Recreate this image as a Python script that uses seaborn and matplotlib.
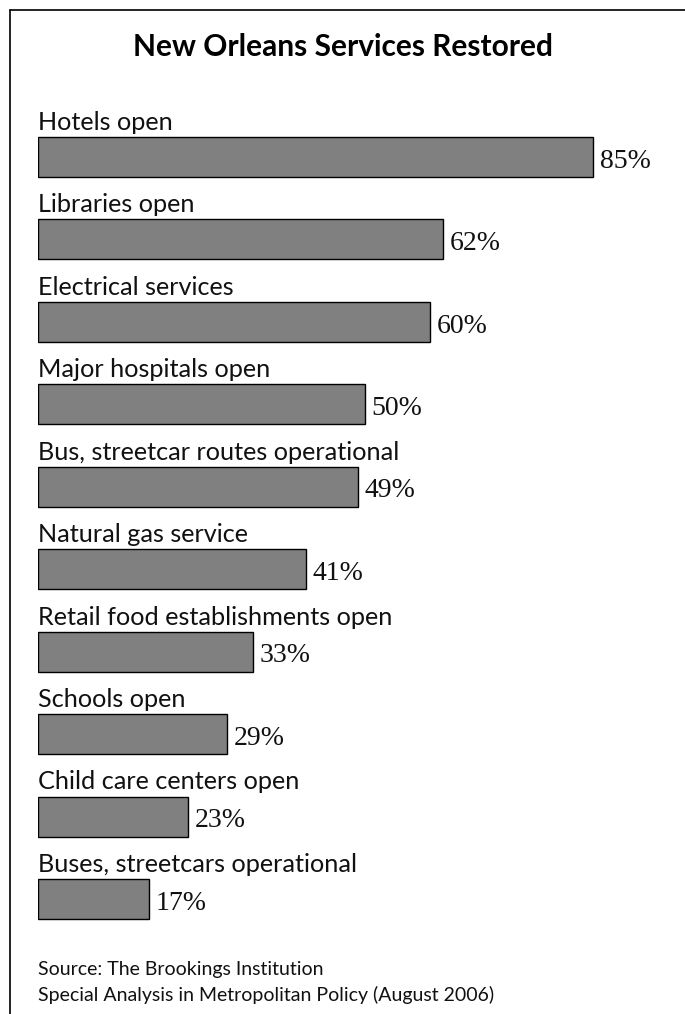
import matplotlib
matplotlib.use("Agg")
import matplotlib.pyplot as plt
import seaborn as sns
import pandas as pd
from matplotlib.lines import Line2D

categories = ["Hotels open", "Libraries open", "Electrical services", "Major hospitals open",
              "Bus, streetcar routes operational", "Natural gas service",
              "Retail food establishments open", "Schools open", "Child care centers open",
              "Buses, streetcars operational"]
values = [85, 62, 60, 50, 49, 41, 33, 29, 23, 17]
value_labels = ["85%", "62%", "60%", "50%", "49%", "41%", "33%", "29%", "23%", "17%"]
title = "New Orleans Services Restored"
source_lines = ["Source: The Brookings Institution",
                "Special Analysis in Metropolitan Policy (August 2006)"]

sns.set_style("white")
plt.rcParams['font.family'] = ['Lato', 'DejaVu Sans']

W, H = 685, 1014
fig = plt.figure(figsize=(W/100, H/100), dpi=100)

x0 = 38
px_per_unit = 6.53
xmax = 90
ax_w = px_per_unit * xmax
top_c, bot_c = 157, 899
step = (bot_c - top_c) / 9
ax_top = top_c - step
ax_bot = bot_c + step
ax = fig.add_axes([x0 / W, 1 - ax_bot / H, ax_w / W, (ax_bot - ax_top) / H])

df = pd.DataFrame({"cat": categories, "val": values})
sns.barplot(data=df, x="val", y="cat", orient="h", color="#808080", edgecolor="black",
            linewidth=1.0, width=40/step, saturation=1, ax=ax)
ax.set_xlim(0, xmax)
ax.set_ylim(10, -1)
ax.set_axis_off()

for i, (c, v, lab) in enumerate(zip(categories, values, value_labels)):
    ax.text(0, i - 0.42, c, ha="left", va="center", fontsize=18.2, color="#111111")
    ax.text(v + 1.0, i + 0.05, lab, ha="left", va="center", fontsize=20,
            family=["Liberation Serif"], color="#111111")

fig.text(343 / W, 1 - 47 / H, title, ha="center", va="center", fontsize=21.5,
         fontweight="bold", color="black")
fig.text(x0 / W, 1 - 970 / H, source_lines[0], ha="left", va="center", fontsize=14, color="#111111")
fig.text(x0 / W, 1 - 995 / H, source_lines[1], ha="left", va="center", fontsize=14, color="#111111")

fig.add_artist(Line2D([10 / W, 1], [1 - 10 / H, 1 - 10 / H], color="black", lw=1.2))
fig.add_artist(Line2D([10 / W, 10 / W], [1 - 10 / H, 0], color="black", lw=1.2))

fig.savefig("out.png", dpi=100)
